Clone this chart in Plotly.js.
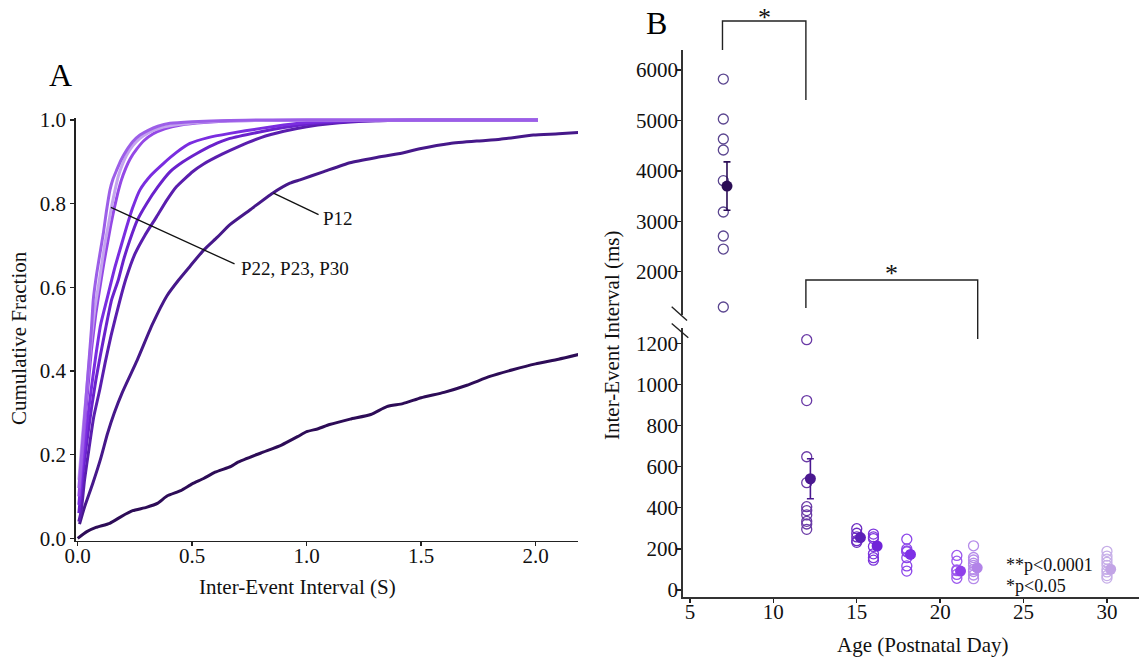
<!DOCTYPE html>
<html>
<head>
<meta charset="utf-8">
<script src="https://cdn.plot.ly/plotly-3.0.1.min.js"></script>
<style>
html,body{margin:0;padding:0;background:#fff;}
#chart{width:1139px;height:661px;}
</style>
</head>
<body>
<div id="chart"></div>
<script>
// ---------- Panel A: cumulative fraction curves ----------
const p7X  = [0,0.04,0.08,0.14,0.19,0.24,0.30,0.35,0.39,0.45,0.5,0.55,0.6,0.67,0.7,0.8,0.89,0.96,1.0,1.05,1.1,1.19,1.28,1.35,1.42,1.5,1.6,1.7,1.8,1.9,2.0,2.1,2.2];
const p7Y  = [0,0.016,0.026,0.036,0.052,0.066,0.074,0.084,0.101,0.114,0.13,0.143,0.158,0.172,0.182,0.204,0.223,0.243,0.255,0.262,0.272,0.285,0.296,0.315,0.322,0.336,0.349,0.366,0.387,0.403,0.417,0.428,0.441];

const p12X = [0.008,0.03,0.065,0.1,0.13,0.16,0.195,0.26,0.325,0.39,0.44,0.49,0.55,0.61,0.665,0.752,0.851,0.927,0.971,1.072,1.189,1.3,1.408,1.5,1.626,1.75,1.845,1.99,2.1,2.2];
const p12Y = [0.034,0.075,0.13,0.19,0.25,0.3,0.349,0.426,0.51,0.58,0.617,0.65,0.689,0.72,0.75,0.785,0.825,0.849,0.857,0.876,0.898,0.91,0.92,0.932,0.944,0.95,0.954,0.964,0.967,0.971];

const p15X = [0.005,0.016,0.03,0.049,0.07,0.097,0.12,0.146,0.185,0.211,0.25,0.292,0.345,0.39,0.432,0.503,0.55,0.633,0.7,0.8,0.9,1.0,1.1,1.3,1.5,2.01];
const p15Y = [0.04,0.068,0.14,0.213,0.29,0.357,0.42,0.485,0.57,0.621,0.68,0.723,0.769,0.809,0.841,0.877,0.895,0.919,0.936,0.958,0.973,0.984,0.991,0.998,1.0,1.0];

const p16X = [0.005,0.02,0.04,0.06,0.08,0.1,0.125,0.148,0.177,0.2,0.228,0.26,0.301,0.35,0.403,0.46,0.52,0.59,0.665,0.8,0.9,1.0,1.2,1.5,2.01];
const p16Y = [0.06,0.14,0.23,0.31,0.38,0.44,0.51,0.57,0.617,0.665,0.713,0.76,0.80,0.84,0.876,0.90,0.92,0.94,0.956,0.972,0.982,0.99,0.997,1.0,1.0];

const p18X = [0.005,0.02,0.04,0.06,0.08,0.1,0.127,0.145,0.163,0.19,0.214,0.24,0.272,0.32,0.374,0.43,0.49,0.57,0.665,0.8,0.9,1.0,1.2,1.5,2.01];
const p18Y = [0.08,0.17,0.27,0.36,0.44,0.51,0.57,0.61,0.649,0.70,0.745,0.79,0.833,0.868,0.896,0.922,0.944,0.958,0.968,0.98,0.988,0.994,0.999,1.0,1.0];

const p22X = [0.005,0.02,0.04,0.06,0.068,0.083,0.1,0.112,0.125,0.141,0.155,0.17,0.19,0.214,0.24,0.272,0.31,0.35,0.403,0.5,0.665,0.8,1.0,1.5,2.01];
const p22Y = [0.12,0.22,0.36,0.5,0.57,0.633,0.69,0.729,0.78,0.833,0.86,0.88,0.905,0.928,0.948,0.964,0.976,0.985,0.992,0.996,0.999,1.0,1.0,1.0,1.0];

const p23X = [0.005,0.02,0.04,0.06,0.08,0.1,0.115,0.13,0.145,0.16,0.175,0.19,0.21,0.23,0.26,0.29,0.33,0.38,0.45,0.55,0.7,0.85,1.0,1.5,2.01];
const p23Y = [0.10,0.2,0.33,0.45,0.54,0.61,0.66,0.705,0.75,0.79,0.825,0.855,0.885,0.908,0.932,0.951,0.967,0.979,0.988,0.994,0.998,0.999,1.0,1.0,1.0];

const p30X = [0.005,0.02,0.04,0.06,0.075,0.09,0.105,0.119,0.135,0.148,0.162,0.177,0.195,0.214,0.24,0.272,0.31,0.35,0.403,0.5,0.665,0.8,1.0,1.5,2.01];
const p30Y = [0.14,0.24,0.36,0.48,0.55,0.601,0.655,0.705,0.752,0.793,0.83,0.865,0.893,0.916,0.938,0.956,0.970,0.979,0.986,0.993,0.998,0.999,1.0,1.0,1.0];

const curveNames  = ['P7','P12','P15','P16','P18','P23','P30','P22'];
const curveX      = [p7X,p12X,p15X,p16X,p18X,p23X,p30X,p22X];
const curveY      = [p7Y,p12Y,p15Y,p16Y,p18Y,p23Y,p30Y,p22Y];
const curveColors = ['#2d0c57','#46188a','#5a1eae','#6a22cc','#7a2de0','#9448e6','#c4a4ee','#9c5ee8'];

const xTicksA = [0,0.5,1.0,1.5,2.0];
const yTicksA = [0,0.2,0.4,0.6,0.8,1.0];

// ---------- Panel B: inter-event interval by age ----------
const agesB  = [7,12,15,16,18,21,22,30];
const indivB = [
  [5821,5028,4631,4413,3804,3183,2706,2448,1298],
  [1217,921,648,522,405,386,365,334,321,295],
  [298,276,258,240,232],
  [272,258,250,212,176,157,145],
  [247,200,190,186,157,117,92],
  [168,140,98,94,76,57],
  [215,158,146,130,120,100,90,73,55],
  [188,165,150,135,120,100,88,70,58]
];
const meanB  = [3698,541,255,214,173,92,108,101];
const semB   = [480,97,12,16,18,12,14,12];
const circleColorsB = ['#5b4690','#6a3aa6','#6c2cc2','#7c34dc','#8c46ea','#9c58ee','#b68cea','#c6aee8'];
const meanColorsB   = ['#2b0d55','#4a1890','#5c20b8','#7024d8','#7e30e6','#9040ea','#b283e8','#c2a4e6'];
const upperAges = [7];   // groups drawn on the upper (broken) axis
const lowerTicksB = [0,200,400,600,800,1000,1200];
const upperTicksB = [2000,3000,4000,5000,6000];
const xTicksB = [5,10,15,20,25,30];

const FONT = 'Liberation Serif';
const W = 1139, H = 661;
const px = v => v / W;          // pixel -> paper x
const py = v => 1 - v / H;      // pixel -> paper y

const traces = [];
curveNames.forEach((n,i) => {
  traces.push({
    type:'scatter', mode:'lines', name:n, x:curveX[i], y:curveY[i],
    xaxis:'x', yaxis:'y',
    line:{color:curveColors[i], width:3, shape:'spline', smoothing:0.5},
    hoverinfo:'skip'
  });
});

agesB.forEach((age,i) => {
  const ya = upperAges.includes(age) ? 'y3' : 'y2';
  traces.push({
    type:'scatter', mode:'markers', name:'P'+age,
    x:indivB[i].map(() => age), y:indivB[i],
    xaxis:'x2', yaxis:ya,
    marker:{symbol:'circle-open', size:10, color:circleColorsB[i], line:{width:1.3, color:circleColorsB[i]}},
    hoverinfo:'skip'
  });
  traces.push({
    type:'scatter', mode:'markers', name:'P'+age+' mean',
    x:[age + 0.22], y:[meanB[i]],
    xaxis:'x2', yaxis:ya,
    marker:{symbol:'circle', size:11, color:meanColorsB[i]},
    error_y:{type:'data', array:[semB[i]], color:meanColorsB[i], thickness:1.6, width:3.5},
    hoverinfo:'skip'
  });
});

const axBase = () => ({
  showgrid:false, zeroline:false, showline:true, linecolor:'#222', linewidth:1.6,
  ticks:'outside', ticklen:4, tickwidth:1.4, tickcolor:'#222',
  tickfont:{family:FONT, size:21, color:'#111'}
});

const layout = {
  width:W, height:H,
  margin:{l:0,r:0,t:0,b:0},
  paper_bgcolor:'#fff', plot_bgcolor:'rgba(0,0,0,0)',
  showlegend:false,
  font:{family:FONT, color:'#111', size:21},
  xaxis: Object.assign(axBase(), {domain:[px(75.7), px(578)], range:[-0.0087, 2.185], anchor:'y',
          tickvals:xTicksA, ticktext:xTicksA.map(v=>v.toFixed(1)), ticklabelstandoff:-9}),
  yaxis: Object.assign(axBase(), {domain:[py(540.7), py(118)], range:[-0.0057, 1.0048], anchor:'x',
          tickvals:yTicksA, ticktext:yTicksA.map(v=>v.toFixed(1))}),
  xaxis2: Object.assign(axBase(), {domain:[px(682.7), 1], range:[4.565, 31.92], anchor:'y2',
          tickvals:xTicksB, linecolor:'#333', linewidth:2, ticklabelstandoff:-9}),
  yaxis2: Object.assign(axBase(), {domain:[py(597), py(328)], range:[-34, 1274], anchor:'x2',
          tickvals:lowerTicksB, linecolor:'#333', linewidth:1.6, ticklabelstandoff:-5}),
  yaxis3: Object.assign(axBase(), {domain:[py(315), py(50)], range:[1139, 6397], anchor:'x2',
          tickvals:upperTicksB, linecolor:'#333', linewidth:1.6, ticklabelstandoff:-5}),
  shapes:[
    {type:'line', xref:'x', yref:'y', x0:0.855, y0:0.825, x1:1.052, y1:0.774, line:{color:'#111', width:1.3}},
    {type:'line', xref:'x', yref:'y', x0:0.145, y0:0.791, x1:0.685, y1:0.656, line:{color:'#111', width:1.3}},
    {type:'path', xref:'x2', yref:'paper',
      path:`M 6.95 ${py(50)} L 6.95 ${py(21)} L 11.95 ${py(21)} L 11.95 ${py(100)}`, line:{color:'#222', width:1.4}},
    {type:'path', xref:'x2', yref:'paper',
      path:`M 11.95 ${py(308)} L 11.95 ${py(280)} L 22.25 ${py(280)} L 22.25 ${py(339)}`, line:{color:'#222', width:1.4}},
    {type:'line', xref:'paper', yref:'paper', x0:px(671.7), y0:py(306.7), x1:px(687), y1:py(320.5), line:{color:'#222', width:1.4}},
    {type:'line', xref:'paper', yref:'paper', x0:px(671.7), y0:py(323.5), x1:px(688.3), y1:py(337.7), line:{color:'#222', width:1.4}}
  ],
  annotations:[
    {text:'A', xref:'paper', yref:'paper', x:px(60), y:py(75), showarrow:false, xanchor:'center', yanchor:'middle', font:{family:FONT, size:32, color:'#000'}},
    {text:'B', xref:'paper', yref:'paper', x:px(656), y:py(23), showarrow:false, xanchor:'center', yanchor:'middle', font:{family:FONT, size:32, color:'#000'}},
    {text:'Cumulative Fraction', xref:'paper', yref:'paper', x:px(19), y:py(338), textangle:-90, showarrow:false, xanchor:'center', yanchor:'middle', font:{family:FONT, size:21, color:'#111'}},
    {text:'Inter-Event Interval (S)', xref:'paper', yref:'paper', x:px(297), y:py(587), showarrow:false, xanchor:'center', yanchor:'middle', font:{family:FONT, size:21, color:'#111'}},
    {text:'Inter-Event Interval (ms)', xref:'paper', yref:'paper', x:px(612), y:py(335), textangle:-90, showarrow:false, xanchor:'center', yanchor:'middle', font:{family:FONT, size:21, color:'#111'}},
    {text:'Age (Postnatal Day)', xref:'paper', yref:'paper', x:px(922), y:py(645), showarrow:false, xanchor:'center', yanchor:'middle', font:{family:FONT, size:21, color:'#111'}},
    {text:'P12', xref:'x', yref:'y', x:1.062, y:0.765, showarrow:false, xanchor:'left', yanchor:'middle', font:{family:FONT, size:19, color:'#111'}},
    {text:'P22, P23, P30', xref:'x', yref:'y', x:0.705, y:0.646, showarrow:false, xanchor:'left', yanchor:'middle', font:{family:FONT, size:19, color:'#111'}},
    {text:'*', xref:'x2', yref:'paper', x:9.45, y:py(17), showarrow:false, xanchor:'center', yanchor:'middle', font:{family:FONT, size:26, color:'#111'}},
    {text:'*', xref:'x2', yref:'paper', x:17.1, y:py(273), showarrow:false, xanchor:'center', yanchor:'middle', font:{family:FONT, size:26, color:'#111'}},
    {text:'**p<0.0001', xref:'paper', yref:'paper', x:px(1004), y:py(565), showarrow:false, xanchor:'left', yanchor:'middle', font:{family:FONT, size:18, color:'#111'}},
    {text:'*p<0.05', xref:'paper', yref:'paper', x:px(1004), y:py(586), showarrow:false, xanchor:'left', yanchor:'middle', font:{family:FONT, size:18, color:'#111'}}
  ]
};

Plotly.newPlot('chart', traces, layout, {displayModeBar:false, staticPlot:true});
</script>
</body>
</html>
